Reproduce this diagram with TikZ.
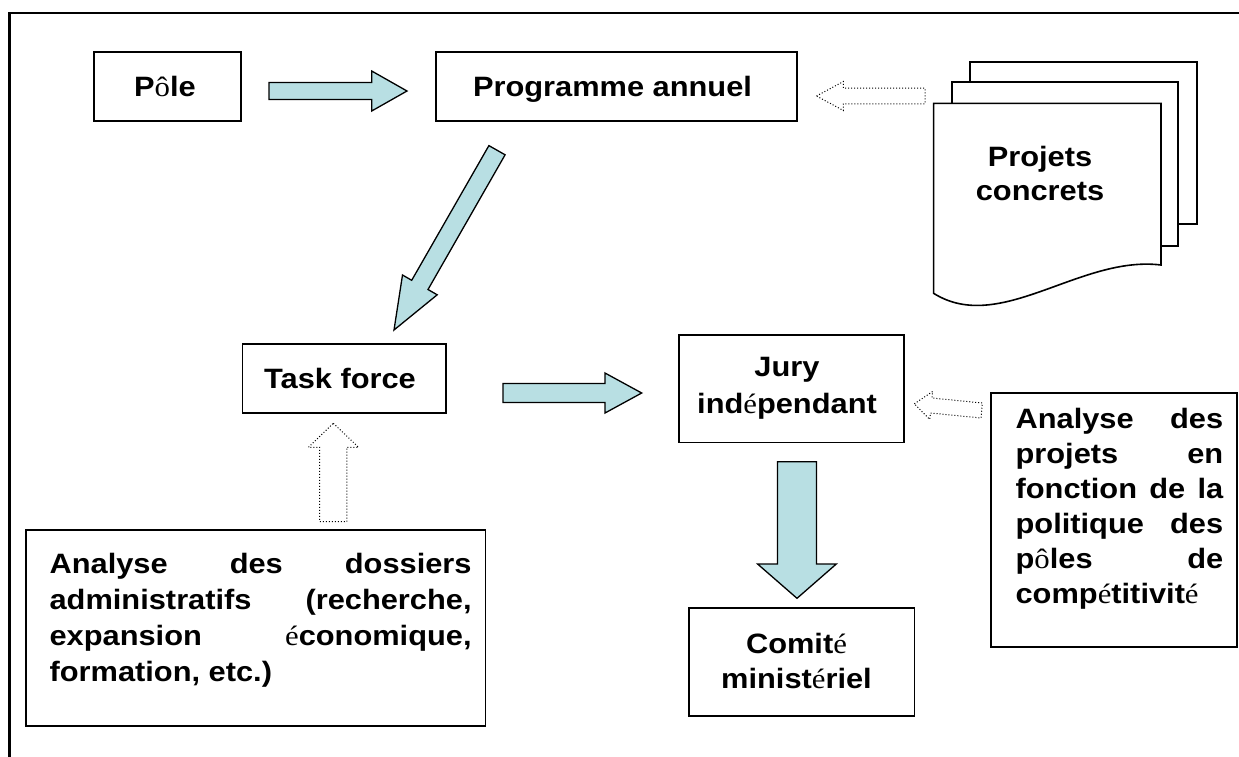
\documentclass[tikz,border=0pt]{standalone}
\usepackage{fontspec}
\setmainfont{Liberation Sans}[FakeStretch=1.1]
\newfontfamily\accfont{Liberation Serif}[FakeStretch=1.1]
\newcommand\acc[1]{{\accfont\mdseries #1}}
\definecolor{arrowfill}{RGB}{184,223,227}
\begin{document}
\begin{tikzpicture}[x=1pt,y=-1pt,
  box/.style={draw, line width=1.7pt, fill=white, inner sep=0pt},
  sheet/.style={draw, line width=1.6pt, fill=white, line join=miter},
  blockarrow/.style={draw, line width=1.3pt, fill=arrowfill, line join=miter},
  dotarrow/.style={draw, dotted, line width=1pt, fill=white},
  txt/.style={font=\fontsize{28}{35}\selectfont\bfseries, inner sep=0pt, align=center},
  jtxt/.style={font=\fontsize{28}{35}\selectfont\bfseries, inner sep=0pt, align=left}]
\useasboundingbox (0,0) rectangle (1239,756);
% outer frame (open at right and bottom)
\draw[line width=2.2pt] (9.5,770) -- (9.5,12.7) -- (1255,12.7);

% boxes
\node[box, minimum width=147pt, minimum height=69pt] (pole) at (167.5,86.5) {};
\node[box, minimum width=361pt, minimum height=68.7pt] (prog) at (616.5,86.65) {};
\node[box, minimum width=203.6pt, minimum height=69.3pt] (tf) at (344.2,378.65) {};
\node[box, minimum width=224.5pt, minimum height=107.5pt] (jury) at (791.4,388.6) {};
\node[box, minimum width=225.4pt, minimum height=108.3pt] (comite) at (801.9,661.85) {};
\node[box, minimum width=459.9pt, minimum height=195.7pt] (anaL) at (255.65,627.85) {};
\node[box, minimum width=245.8pt, minimum height=254.6pt] (anaR) at (1113.9,520) {};

% texts
\node[txt, anchor=base] (poleT) at (165,96.7) {P\acc{ô}le};
\node[txt, anchor=base] (progT) at (612.5,96.7) {Programme annuel};
\node[txt, anchor=base] (tfT) at (340,388.3) {Task force};
\node[txt, anchor=north] (juryT) at (787,376.7-22) {\rule{0pt}{22pt}Jury\\[2pt] ind\acc{é}pendant};
\node[txt, anchor=north] (comiteT) at (796.5,653.3-22) {\rule{0pt}{22pt}Comit\acc{é}\\ minist\acc{é}riel};
\node[jtxt, anchor=north west, font=\fontsize{28}{36}\selectfont\bfseries] (anaLT) at (49.4,573.3-22) {%
\rule{0pt}{22pt}\makebox[422pt][s]{Analyse des dossiers}\\
\makebox[422pt][s]{administratifs (recherche,}\\
\makebox[422pt][s]{expansion \acc{é}conomique,}\\
formation, etc.)};
\node[jtxt, anchor=north west] (anaRT) at (1015.4,428.3-22) {%
\rule{0pt}{22pt}\makebox[207.6pt][s]{Analyse des}\\
\makebox[207.6pt][s]{projets en}\\
\makebox[207.6pt][s]{fonction de la}\\
\makebox[207.6pt][s]{politique des}\\
\makebox[207.6pt][s]{p\acc{ô}les de}\\
comp\acc{é}titivit\acc{é}};

% document stack
\draw[sheet] (970,61.7) rectangle (1197,224);
\draw[sheet] (952,81.7) rectangle (1178,245.7);
\draw[sheet] (933.6,103.3) -- (1161,103.3) -- (1161,265)
  .. controls (1080,255) and (1000,335) .. (933.6,293.3) -- cycle;
\node[txt, anchor=north] (projT) at (1040,166.7-22) {\rule{0pt}{22pt}Projets\\[-1.7pt] concrets};

% solid block arrows
\draw[blockarrow] (269,82.5) -- (371.7,82.5) -- (371.7,71) -- (407,91) -- (371.7,111) -- (371.7,99.5) -- (269,99.5) -- cycle;
\draw[blockarrow] (488.9,145.6) -- (411.7,280.3) -- (402.5,275) -- (394,330) -- (437.2,294.8) -- (428,289.5) -- (505.1,154.8) -- cycle;
\draw[blockarrow] (503,383.5) -- (605,383.5) -- (605,373) -- (641.7,393) -- (605,413) -- (605,402.5) -- (503,402.5) -- cycle;
\draw[blockarrow] (777.4,461.7) -- (816.5,461.7) -- (816.5,564) -- (836.3,564) -- (797,598.3) -- (757.6,564) -- (777.4,564) -- cycle;

% dotted block arrows
\draw[dotarrow] (816.5,96) -- (843.4,81.5) -- (843.4,88.2) -- (925,88.2) -- (925,103.8) -- (843.4,103.8) -- (843.4,110.5) -- cycle;
\draw[dotarrow] (333.3,423.3) -- (358.6,447.3) -- (346.8,447.3) -- (346.8,521.7) -- (319.6,521.7) -- (319.6,447.3) -- (308.4,447.3) -- cycle;
\draw[dotarrow] (914.3,403.8) -- (932.6,391.5) -- (932.0,398.0) -- (982.4,403.0) -- (981.0,418.0) -- (930.5,413.0) -- (929.8,419.4) -- cycle;
\end{tikzpicture}
\end{document}
